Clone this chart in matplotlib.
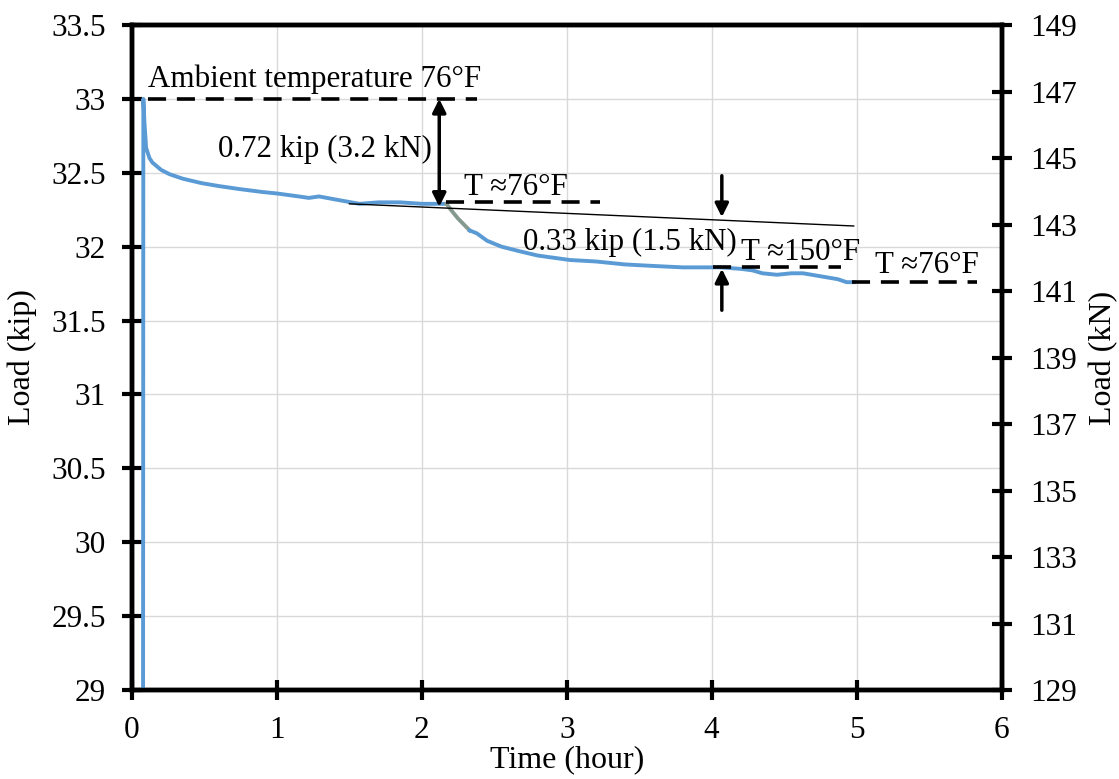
import numpy as np
import matplotlib
matplotlib.use("Agg")
import matplotlib.pyplot as plt

# load history (hours, kip)
t_blue1 = [0.070, 0.076, 0.078, 0.085, 0.097, 0.12, 0.14, 0.20, 0.26, 0.35, 0.48, 0.60,
           0.74, 0.90, 1.00, 1.15, 1.22, 1.29, 1.40, 1.57, 1.70, 1.85, 2.00, 2.12, 2.17]
p_blue1 = [28.0, 29.0, 33.0, 32.85, 32.67, 32.60, 32.57, 32.52, 32.49, 32.46, 32.43, 32.41,
           32.39, 32.37, 32.36, 32.34, 32.33, 32.34, 32.32, 32.29, 32.30, 32.30, 32.29, 32.29, 32.29]
t_gray = [2.17, 2.20, 2.25, 2.30, 2.33]
p_gray = [32.29, 32.25, 32.19, 32.14, 32.11]
t_blue2 = [2.33, 2.38, 2.45, 2.55, 2.67, 2.80, 3.02, 3.20, 3.40, 3.59, 3.80, 4.06, 4.20,
           4.28, 4.35, 4.45, 4.55, 4.63, 4.75, 4.87, 4.93, 4.98]
p_blue2 = [32.11, 32.09, 32.04, 32.00, 31.97, 31.94, 31.91, 31.90, 31.88, 31.87, 31.86, 31.86, 31.85,
           31.84, 31.82, 31.81, 31.82, 31.82, 31.80, 31.78, 31.76, 31.76]

# extrapolated trend line
t_trend = [1.50, 4.98]
p_trend = [32.29, 32.14]

# dashed reference levels: (x0, x1, y)
dashed = [(0.11, 2.38, 33.0), (2.17, 3.23, 32.30), (4.01, 4.89, 31.86), (4.97, 5.83, 31.76)]

# temperature labels: (text, x, y)
labels = [("Ambient temperature 76°F", 0.11, 33.13),
          ("T \u224876°F", 2.29, 32.40),
          ("T \u2248150°F", 4.20, 31.96),
          ("T \u224876°F", 5.13, 31.87)]

xticks = [0, 1, 2, 3, 4, 5, 6]
yticks = [29, 29.5, 30, 30.5, 31, 31.5, 32, 32.5, 33, 33.5]
ytick_labels = ["29", "29.5", "30", "30.5", "31", "31.5", "32", "32.5", "33", "33.5"]
kn_ticks = [129, 131, 133, 135, 137, 139, 141, 143, 145, 147, 149]

plt.rcParams['font.family'] = ['Liberation Serif', 'DejaVu Serif']
fs = 22.5
fs_note = 22.3

fig = plt.figure(figsize=(11.19, 7.79), dpi=100)
ax = fig.add_axes([0.1180, 0.1142, 0.7770, 0.8537])

blue = '#5b9bd5'
ax.plot(t_blue1, p_blue1, color=blue, lw=2.8, zorder=3)
ax.plot(t_gray, p_gray, color='#86998f', lw=2.8, zorder=3)
ax.plot(t_blue2, p_blue2, color=blue, lw=2.8, zorder=3)
ax.plot(t_trend, p_trend, color='black', lw=1.0, zorder=4)

for x0, x1, y in dashed:
    ax.plot([x0, x1], [y, y], color='black', lw=2.6, dashes=(5, 3), zorder=5)

for txt, x, y in labels:
    ax.text(x, y, txt, fontsize=fs_note, ha='left', va='center', zorder=6)

# 0.72 kip double arrow
ax.annotate('', xy=(2.12, 32.27), xytext=(2.12, 33.0),
            arrowprops=dict(arrowstyle='<|-|>', color='black', lw=2.5,
                            mutation_scale=20, shrinkA=0, shrinkB=0), zorder=6)
ax.text(2.07, 32.66, "0.72 kip (3.2 kN)", fontsize=fs_note, ha='right', va='center')

# 0.33 kip pair of arrows
ax.annotate('', xy=(4.07, 32.20), xytext=(4.07, 32.48),
            arrowprops=dict(arrowstyle='-|>', color='black', lw=2.5,
                            mutation_scale=20, shrinkA=0, shrinkB=0), zorder=6)
ax.annotate('', xy=(4.07, 31.85), xytext=(4.07, 31.57),
            arrowprops=dict(arrowstyle='-|>', color='black', lw=2.5,
                            mutation_scale=20, shrinkA=0, shrinkB=0), zorder=6)
ax.text(4.17, 32.03, "0.33 kip (1.5 kN)", fontsize=fs_note, ha='right', va='center')

ax.set_xlim(0, 6)
ax.set_ylim(29, 33.5)
ax.set_xticks(xticks)
ax.set_yticks(yticks)
ax.set_yticklabels(ytick_labels)
ax.grid(True, color='#d9d9d9', lw=1.0)
ax.set_axisbelow(True)
ax.tick_params(direction='inout', length=14, width=3, labelsize=fs, pad=12)
for s in ax.spines.values():
    s.set_linewidth(3.2)
ax.set_xlabel("Time (hour)", fontsize=23, labelpad=0)
ax.set_ylabel("Load (kip)", fontsize=23, labelpad=10)

ax2 = ax.twinx()
ax2.set_ylim(129, 149)
ax2.set_yticks(kn_ticks)
ax2.tick_params(direction='inout', length=14, width=3, labelsize=fs, pad=14)
for s in ax2.spines.values():
    s.set_linewidth(3.2)
ax2.set_ylabel("Load (kN)", fontsize=23, labelpad=8)

fig.savefig("out.png", dpi=100)
